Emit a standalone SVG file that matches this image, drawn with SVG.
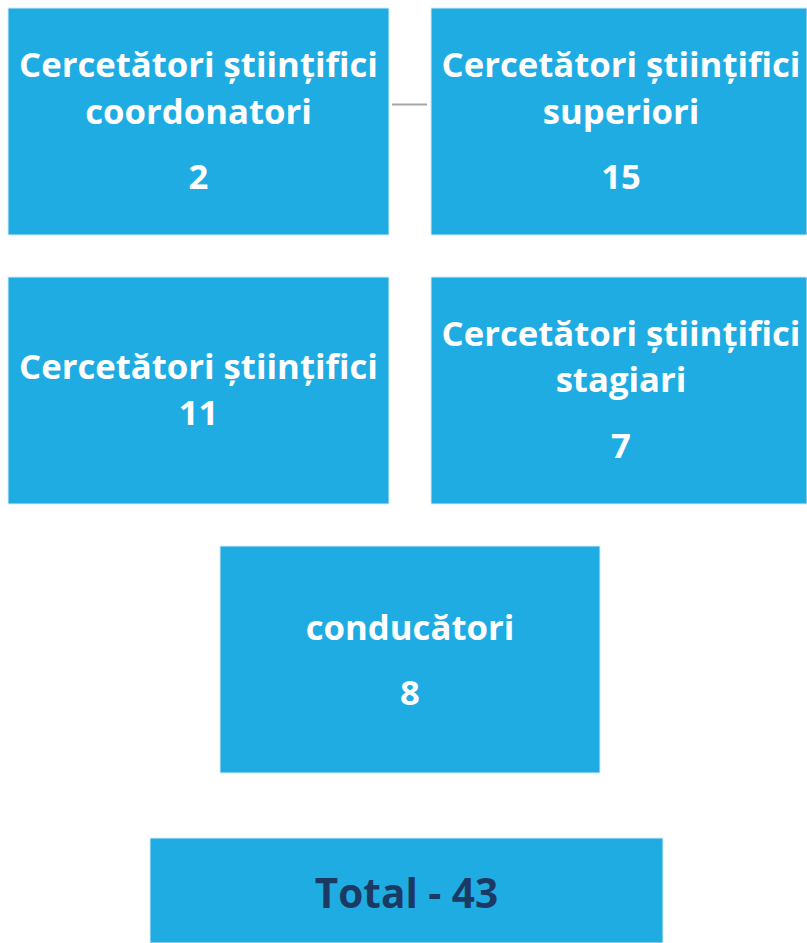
<svg xmlns="http://www.w3.org/2000/svg" width="807" height="943" viewBox="0 0 807 943">
<style>
.box{fill:#1facE3;stroke:#d6eefa;stroke-width:1}
.t{font-family:"Open Sans","Liberation Sans",sans-serif;font-weight:700;font-size:34.7px;fill:#ffffff;text-anchor:middle}
.tot{font-family:"Open Sans","Liberation Sans",sans-serif;font-weight:700;font-size:40.5px;fill:#1b3a63;text-anchor:middle}
.conn{stroke:#a6a6a6;stroke-width:2;fill:none}
</style>
<rect width="807" height="943" fill="#ffffff"/>
<g id="connectors">
<line class="conn" x1="392" y1="104.5" x2="427" y2="104.5"/>
</g>
<g id="n1">
<rect class="box" x="8" y="8" width="381" height="227"/>
<text class="t" x="198.5" y="77">Cercetători științifici</text>
<text class="t" x="198.5" y="124">coordonatori</text>
<text class="t" x="198.5" y="189">2</text>
</g>
<g id="n2">
<rect class="box" x="431" y="8" width="376" height="227"/>
<text class="t" x="621" y="77">Cercetători științifici</text>
<text class="t" x="621" y="124">superiori</text>
<text class="t" x="621" y="189">15</text>
</g>
<g id="n3">
<rect class="box" x="8" y="277" width="381" height="227"/>
<text class="t" x="198.5" y="379">Cercetători științifici</text>
<text class="t" x="198.5" y="425">11</text>
</g>
<g id="n4">
<rect class="box" x="431" y="277" width="376" height="227"/>
<text class="t" x="621" y="346">Cercetători științifici</text>
<text class="t" x="621" y="392">stagiari</text>
<text class="t" x="621" y="458">7</text>
</g>
<g id="n5">
<rect class="box" x="220" y="546" width="380" height="227"/>
<text class="t" x="410" y="640">conducători</text>
<text class="t" x="410" y="705">8</text>
</g>
<g id="total">
<rect class="box" x="150" y="838" width="513" height="105"/>
<text class="tot" x="406.5" y="908">Total - 43</text>
</g>
</svg>
